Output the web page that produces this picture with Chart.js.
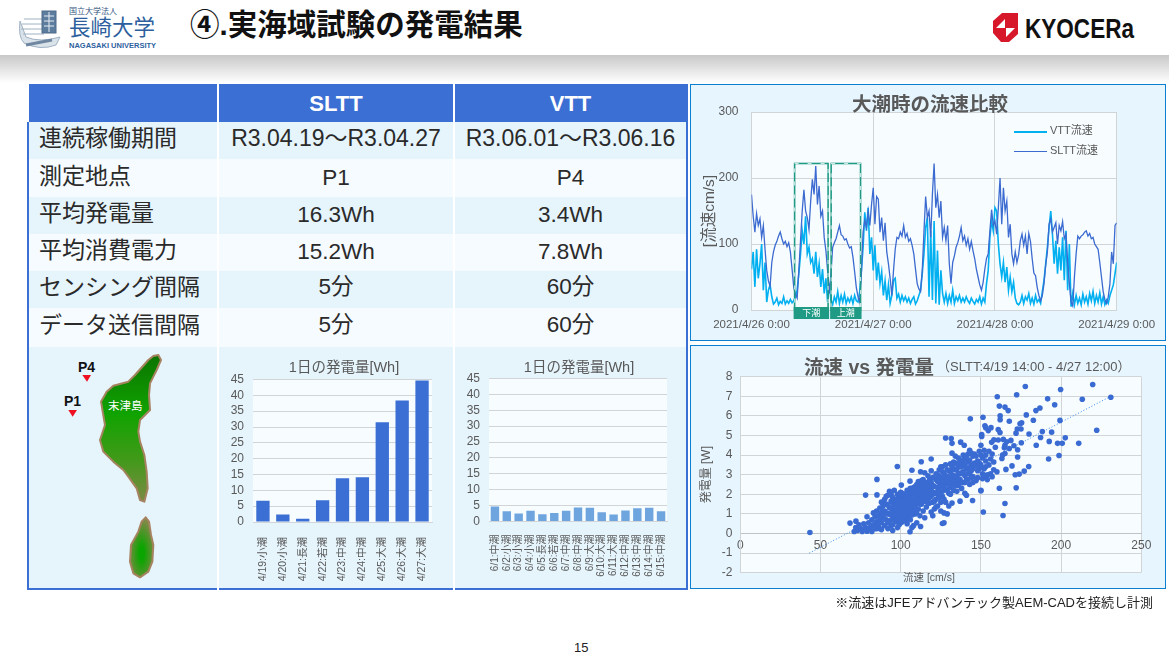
<!DOCTYPE html>
<html lang="ja">
<head>
<meta charset="utf-8">
<title>実海域試験の発電結果</title>
<script src="https://cdn.jsdelivr.net/npm/chart.js@4"></script>
<style>
  html, body { margin: 0; padding: 0; background: #fff; }
  body { position: relative; width: 1169px; height: 658px; overflow: hidden; font-family: "Liberation Sans", "Noto Sans CJK JP", sans-serif; color: #1a1a1a; }
  .abs { position: absolute; white-space: nowrap; }
  canvas { position: absolute; display: block; }
  #shadow { left: 0; top: 55px; width: 1169px; height: 28px; background: linear-gradient(#c8c8c8, #fff); }
  #pageTitle { left: 190px; top: 5px; font-size: 29.5px; font-weight: bold; color: #111; line-height: 40px; }
  #summary { position: absolute; left: 27px; top: 84px; width: 661px; height: 506px; box-sizing: border-box; border: 2px solid #3b6fd4; background: #e6f4fc; border-collapse: collapse; table-layout: fixed; color: #2a2a2a; }
  #summary td, #summary th { padding: 0; text-align: center; border-left: 2px solid #fff; font-weight: normal; font-size: 22.5px; line-height: 28px; overflow: hidden; }
  #summary th { background: #3b6fd4; color: #fff; font-weight: bold; font-size: 22px; }
  #summary td:first-child { text-align: left; padding-left: 10px; border-left: 0; font-size: 23px; }
  #summary td.wide { font-size: 23px; }
  #summary span.cjk { position: relative; top: -2.5px; }
  #summary tr:nth-child(odd) td { background: #f6fbff; }
  #summary tr:nth-child(even) td { background: #e6f4fc; }
  .panel { position: absolute; left: 690px; width: 476px; box-sizing: border-box; border: 1px solid #0d7fd0; background: #e7f5fe; }
  .legLine { position: absolute; left: 1014px; width: 33px; }
  .legText { left: 1050px; font-size: 11px; line-height: 14px; color: #595959; }
  .barTitle { top: 358px; width: 140px; text-align: center; font-size: 14.5px; line-height: 18px; color: #595959; }
</style>
</head>
<body>
<div class="abs" id="shadow"></div>

<!-- university logo, rough -->
<svg class="abs" style="left:18px;top:7px" width="44" height="44" viewBox="0 0 44 44" fill="none" stroke="#9fb2c4" stroke-width="1">
  <path d="M2 14 Q0 30 6 36 Q22 44 38 38 L42 30 Q22 36 8 30 Z" fill="#dbe3ea"/>
  <path d="M6 12 H26 M4 17 H26 M3 22 H26 M5 27 H26"/>
  <path d="M8 38 L34 33" stroke="#6f87a1" stroke-width="3"/>
  <rect x="24" y="4" width="14" height="22" fill="#5d7d9f" stroke="#4e6a88"/>
  <path d="M26 9 H36 M26 14 H36 M26 19 H36 M31 5 V25" stroke="#e8eef3"/>
</svg>
<div class="abs" style="left:69px;top:7px;font-size:8px;line-height:10px;color:#35557f">国立大学法人</div>
<div class="abs" style="left:69px;top:15px;font-size:21.5px;line-height:26px;color:#2d5f9e">長崎大学</div>
<div class="abs" style="left:69px;top:41px;font-size:7.5px;line-height:10px;color:#2d5f9e;font-weight:bold">NAGASAKI UNIVERSITY</div>

<div class="abs" id="pageTitle">④.実海域試験の発電結果</div>

<!-- kyocera logo -->
<svg class="abs" style="left:993px;top:13px" width="145" height="30" viewBox="0 0 145 30">
  <rect x="0" y="0" width="25" height="29" fill="#d7182a"/>
  <path d="M0 0 H9 L0 8 Z M25 29 H16 L25 21 Z M12 6 V15 H3 Z M13 15 H22 L13 24 Z M0 29 V20 L8 29 Z" fill="#fff"/>
  <text x="32" y="25" font-family="Liberation Sans" font-weight="bold" font-size="27" fill="#111" textLength="109" lengthAdjust="spacingAndGlyphs">KYOCERa</text>
</svg>

<table id="summary"></table>

<!-- island map -->
<svg class="abs" style="left:25px;top:345px" width="195" height="245" viewBox="0 0 585 735">
  <defs>
    <linearGradient id="land" x1="0" y1="0" x2="0" y2="1">
      <stop offset="0" stop-color="#0b7400"/>
      <stop offset="0.4" stop-color="#10a300"/>
      <stop offset="0.7" stop-color="#3f9a18"/>
      <stop offset="1" stop-color="#7c8a45"/>
    </linearGradient>
    <radialGradient id="land2" cx="0.5" cy="0.6" r="0.55">
      <stop offset="0.2" stop-color="#0aa500"/>
      <stop offset="1" stop-color="#7c8a45"/>
    </radialGradient>
  </defs>
  <path d="M400 30 L408 45 L395 75 L385 95 L375 115 L372 150 L375 195 L345 225 L340 260 L345 290 L358 330 L365 380 L368 430 L358 470 L345 465 L335 430 L310 395 L295 375 L265 350 L235 320 L225 285 L240 240 L228 170 L245 140 L265 122 L310 110 L330 90 L370 45 L385 33 Z" fill="url(#land)" stroke="#a5835f" stroke-width="6" stroke-linejoin="round"/>
  <path d="M362 517 L372 530 L378 570 L385 600 L382 650 L370 680 L345 697 L325 685 L315 650 L318 600 L340 560 L350 530 Z" fill="url(#land2)" stroke="#a5835f" stroke-width="6" stroke-linejoin="round"/>
  <path d="M172 90 H198 L186 110 Z M130 195 H156 L143 215 Z" fill="#ee1122"/>
</svg>
<div class="abs" style="left:78px;top:359px;font-size:14px;line-height:16px;font-weight:bold;color:#111">P4</div>
<div class="abs" style="left:64px;top:393px;font-size:14px;line-height:16px;font-weight:bold;color:#111">P1</div>
<div class="abs" style="left:108px;top:399px;font-size:11.5px;line-height:14px;color:#fff">末津島</div>

<canvas id="barSltt" style="left:220px;top:350px" width="233" height="238"></canvas>
<canvas id="barVtt" style="left:455px;top:350px" width="232" height="238"></canvas>
<div class="abs barTitle" style="left:274px">1日の発電量[Wh]</div>
<div class="abs barTitle" style="left:509px">1日の発電量[Wh]</div>

<div class="panel" style="top:84px;height:257px"></div>
<canvas id="flowChart" style="left:691px;top:85px" width="474" height="254"></canvas>
<div class="abs" style="left:852px;top:91px;font-size:19.5px;line-height:26px;font-weight:bold;color:#595959">大潮時の流速比較</div>
<div class="legLine" style="top:131px;height:2px;background:#00b0f0"></div>
<div class="legLine" style="top:151px;height:1px;background:#3b6ad0"></div>
<div class="abs legText" style="top:123px">VTT流速</div>
<div class="abs legText" style="top:143px">SLTT流速</div>

<div class="panel" style="top:345px;height:244px"></div>
<canvas id="scatterChart" style="left:691px;top:346px" width="474" height="242"></canvas>
<div class="abs" style="left:804px;top:354px;font-size:19.5px;line-height:26px;font-weight:bold;color:#595959">流速 vs 発電量</div>
<div class="abs" style="left:937px;top:358px;font-size:13px;line-height:18px;color:#595959">（SLTT:4/19 14:00 - 4/27 12:00）</div>
<div class="abs" style="left:903px;top:570px;font-size:10.5px;line-height:14px;color:#595959">流速 [cm/s]</div>

<div class="abs" style="right:16px;top:595px;font-size:13px;line-height:16px;color:#222">※流速はJFEアドバンテック製AEM-CADを接続し計測</div>
<div class="abs" style="left:574px;top:640px;font-size:13px;line-height:16px;color:#222">15</div>

<script>
const rowLabels = ['連続稼働期間', '測定地点', '平均発電量', '平均消費電力', 'センシング間隔', 'データ送信間隔'];
const slttValues = ['R3.04.19～R3.04.27', 'P1', '16.3Wh', '15.2Wh', '5分', '5分'];
const vttValues = ['R3.06.01～R3.06.16', 'P4', '3.4Wh', '7.8Wh', '60分', '60分'];

const slttDays = ['4/19:小潮', '4/20:小潮', '4/21:長潮', '4/22:若潮', '4/23:中潮', '4/24:中潮', '4/25:大潮', '4/26:大潮', '4/27:大潮'];
const slttEnergy = [6.7, 2.4, 1.0, 6.9, 13.8, 14.1, 31.5, 38.4, 44.7];
const vttDays = ['6/1:中潮', '6/2:小潮', '6/3:小潮', '6/4:小潮', '6/5:長潮', '6/6:若潮', '6/7:中潮', '6/8:中潮', '6/9:大潮', '6/10:大潮', '6/11:大潮', '6/12:中潮', '6/13:中潮', '6/14:中潮', '6/15:中潮'];
const vttEnergy = [4.7, 3.2, 2.5, 3.4, 2.3, 2.7, 3.4, 4.4, 4.3, 2.9, 2.2, 3.5, 4.2, 4.3, 3.2];

// flow speed, one value every 20 min from 4/26 0:00, 6 hours per row
const flowDays = ['2021/4/26 0:00', '2021/4/27 0:00', '2021/4/28 0:00', '2021/4/29 0:00'];
const vttFlow = [
  62,88,35, 92,48,70, 100,30,72, 12,30,38, 20,9,12, 18,8,13,
  10,20,9, 14,10,16, 11,14,20, 30,55,85, 120,100,142, 85,95,72,
  78,55,88, 50,70,35, 62,25,48, 12,40,15, 8,20,12, 28,10,22,
  12,24,10, 18,12,20, 10,22,14, 12,28,60, 95,148,120, 155,85,110,
  60,98,45, 72,40,58, 22,44,15, 38,10,22, 45,48,18, 24,12,22,
  14,20,12, 18,10,16, 20,9,14, 22,30,55, 85,125,140, 20,120,15,
  135,10,90, 8,60,25, 12,25,10, 22,12,30, 10,20,14, 22,12,18,
  12,20,14, 10,18,13, 9,16,12, 20,9,18, 12,40,60, 110,135,120,
  155,150,100, 70,50,72, 42,65,30, 50,28,42, 18,10,8, 12,22,10,
  20,15,25, 10,18,9, 22,12,16, 10,28,45, 70,95,125, 150,115,70,
  105,55,95, 60,110,45, 120,30,100, 5,25,8, 22,10,18, 8,24,12,
  20,9,25, 14,28,10, 22,12,26, 9,20,8, 15,10,22, 30,38,55,
  72
];
const slttFlow = [
  175,142,118, 146,128,138, 110,128,92, 60,44,36, 72,88,98, 104,112,118,
  108,100,104, 96,102,88, 62,34,24, 18,60,105, 150,182,150, 140,122,165,
  198,175,218, 160,188,142, 150,110,90, 60,25,55, 95,102,108, 118,128,114,
  112,106,108, 100,94,96, 80,58,34, 20,12,55, 118,136,125, 150,128,160,
  185,130,172, 168,118,140, 105,132,88, 70,48,22, 60,92,110, 108,118,112,
  128,110,116, 104,108,98, 85,62,40, 32,28,60, 118,172,140, 150,110,175,
  222,155,175, 140,165,110, 125,105,128, 70,40,72, 82,95,102, 112,125,105,
  112,98,108, 92,104,90, 78,62,50, 38,30,42, 62,78,85, 120,152,128,
  135,115,155, 200,130,185, 150,165,110, 130,85,70, 88,72,84, 105,115,98,
  112,85,116, 104,78,56, 52,34,22, 14,22,40, 68,88,130, 138,118,125,
  132,100,128, 120,134,108, 115,72,40, 12,6,50, 85,112,108, 112,114,118,
  120,112,116, 108,110,100, 96,92,72, 50,28,16, 10,20,40, 88,70,128,
  132
];
const flowStepHours = 1 / 3;

const tideLabels = ['下潮', '上潮'];
const tideStart = [8.5, 15.7];
const tideEnd = [15.1, 21.5];
const tideTop = 222;

// [flow cm/s, power W]
const speedPower = [
  [43.4,0.05],[231,6.95],[219.7,7.6],[177.7,7.5],[199.7,7.35],[172.3,7.08],[160.2,6.98],[191.6,6.87],[213.2,6.85],[196,6.57],
  [161.5,6.5],[165,6.45],[167,6.27],[186.8,6.4],[184.3,6.27],[178.3,6.05],[151.3,5.93],[162,6],[162,5.8],[143.4,5.85],
  [167.7,5.73],[182.7,5.78],[199.3,5.77],[175.4,5.65],[174.4,5.6],[152.5,5.5],[153,5.4],[156.3,5.4],[154.6,5.25],[160.8,5.3],
  [161.9,5.15],[172.7,5.33],[175,5.33],[171.9,5.12],[180,5.08],[188.3,5.2],[194.1,5.17],[222.2,5.27],[150.5,5.05],[150.5,4.95],
  [128,4.87],[131.5,4.85],[202.6,4.88],[187.2,4.9],[137.4,4.66],[139.6,4.5],[132,4.6],[192.6,4.7],[197.8,4.6],[200.7,4.6],
  [211,4.6],[175.2,4.63],[184.5,4.5],[156.7,4.65],[158.1,4.78],[160.8,4.77],[164,4.8],[166,4.68],[168.7,4.75],[165,4.5],
  [164.6,4.37],[167.7,4.34],[170.6,4.48],[172.9,4.27],[198.7,3.98],[192.2,3.8],[172.9,3.9],[165,4.08],[163.5,4],[163.1,3.83],
  [169.4,3.45],[165.6,3.27],[179.8,3.42],[177,3.18],[171.4,3],[173.9,3.03],[172,2.33],[161.5,2.31],[165,1.53],[163.8,0.92],
  [151.5,1.1],[144.8,1.68],[150,2.18],[119,3.8],[112.8,3.66],[97.9,3.42],[107,3.23],[112.4,3.15],[85.2,2.76],[78.1,1.96],
  [85.2,1.97],[100.4,2.47],[105.8,2.67],[126,0.51],[127,0.55],[112.4,0.36],[105.8,0.09],[68.4,0.53],[72.1,0.63],
  [71,0.1],[72,0.3],[73,0.15],[74,0.45],[75,0.25],[76,0.1],[77,0.5],[78,0.3],[79,0.12],[79,0.85],[80,0.55],[81,0.3],[82,0.7],[82,0.1],[83,0.45],[83,1.05],[84,0.25],[84,0.85],[85,0.6],[85,1.15],[85,0.25],
  [86,0.9],[86,0.45],[87,1.3],[87,0.7],[87,0.25],[88,1.05],[88,1.6],[88,0.55],[89,0.85],[89,1.4],[90,1.15],[90,0.4],[90,1.75],[91,0.7],[91,1.5],[92,1],[92,0.25],[92,1.95],[93,1.3],[93,0.65],[93,2.15],[94,0.95],[94,1.65],[94,0.4],[95,1.2],[95,0.15],[95,1.85],[95,0.75],
  [96,1.45],[96,1],[96,2.2],[97,0.6],[97,1.75],[97,1.2],[98,0.3],[98,1],[98,2],[98,1.5],[99,0.8],[99,1.3],[99,1.85],[100,1.05],[100,1.6],[100,0.55],[100,2.1],[101,1.25],[101,1.8],[101,0.9],[102,1.45],[102,1.05],[102,2],[103,0.7],[103,1.6],[103,1.25],[104,1.85],[104,1],[104,0.5],[105,1.4],[105,2.15],[105,0.85],[105,1.7],
  [106,1.1],[106,1.9],[106,2.3],[107,0.3],[107,1.55],[107,1.25],[108,2.05],[108,1.7],[108,0.4],[109,1.4],[109,2.4],[109,1],[110,1.85],[110,2.2],[110,0.55],[110,1.55],[111,2],[111,2.65],[111,1.25],[112,2.35],[112,1.75],[112,0.9],[113,2.1],[113,1.5],[113,2.7],[114,1.9],[114,2.45],[114,1.15],[115,2.25],[115,1.65],[115,0.8],[115,3.1],
  [116,2],[116,2.6],[116,1.35],[117,1.8],[117,2.95],[117,2.3],[118,2.15],[118,2.75],[118,1.55],[119,1.1],[119,1.9],[119,3.2],[120,2.45],[120,0.9],[120,1.6],[121,1.25],[121,2.05],[122,2.75],[122,1.75],[123,2.35],[123,1.4],[123,3],[124,2.6],[124,1.85],[124,3.25],[125,1.15],[125,2.15],[125,2.85],[125,1.6],
  [126,2.45],[126,3.4],[126,1.9],[127,2.7],[127,3.05],[127,1.05],[128,2.25],[128,1.6],[128,3.5],[129,2.9],[129,2.55],[129,1],[130,2.05],[130,3.2],[130,1.4],[131,2.75],[131,3.55],[131,2.35],[132,3],[132,1.55],[132,4.1],[133,2.55],[133,3.65],[133,2.2],[134,2.85],[134,3.25],[134,3.95],[135,2.65],[135,3.55],[135,2.15],
  [136,3.05],[136,3.85],[136,2.45],[137,3.4],[137,2.75],[137,1.65],[138,3.7],[138,2.3],[138,3.1],[139,4],[139,2.6],[139,3.5],[140,2.95],[140,2.05],[140,3.85],[141,3.3],[141,1.95],[142,3.65],[142,2.75],[142,4.05],[143,4.25],[143,3.1],[143,2.5],[144,3.5],[144,2.85],[145,3.95],[145,3.3],[145,2.6],
  [146,4.05],[147,2.7],[147,3.45],[148,3.7],[148,2.85],[149,3.3],[149,4.2],[150,4],[150,4.5],[150,2.2],[151,3.05],[151,2.8],[152,3.3],[152,4.25],[153,3.7],[153,4],[154,3],[154,2.75],[155,4.2],[155,3.5],[156,3.8],[156,3.05],[157,2.9],[157,4.05],[158,3.25],[158,3.65],[159,4.4],[160,3.15],
  // filling the dense part of the cloud
  [88,0.2],[89,1.15],[90,0.75],[91,1.05],[91,1.9],[92,1.45],[92,0.55],[93,1],[94,1.3],[94,2],[95,1.55],[95,0.45],[96,0.7],[96,1.7],[97,1.45],[97,0.9],[98,1.75],[98,0.7],[99,1.05],[99,1.6],[99,0.45],[100,1.35],[100,1.85],[100,0.8],[101,1.55],[101,2.05],[101,0.6],[102,1.25],[102,1.75],[102,0.8],[103,1.9],[103,1],[104,1.25],[104,1.55],[104,2.2],[105,1.1],[105,1.95],[106,1.5],[106,0.7],[107,1.8],[107,2.1],[107,0.95],[108,1.15],[108,1.45],[108,2.35],[109,1.75],[109,2.05],[109,1.25],[110,1.1],[110,2.5],[111,1.7],[111,2.3],[112,1.5],[112,2.1],[112,2.6],[113,1.85],[113,2.35],[114,1.65],[114,2.2],[114,2.75],[115,1.95],[115,2.5],[116,1.65],[116,2.3],[117,1.55],[117,2.6],[118,1.85],[118,2.45],[119,2.2],[119,2.6],[120,2],[120,2.85],[121,2.4],[121,1.65],[122,2.1],[122,1.35],[122,3.05],[123,2],[123,2.65],[124,2.25],[124,2.9],[125,2.5],[125,3.4],[126,2.15],[126,2.75],[126,3.15],[127,2.4],[127,1.75],[128,2.6],[128,2.95],[129,2.2],[129,3.25],[130,2.5],[130,2.8],[131,3.15],[131,2],[132,2.65],[132,3.4],[133,2.95],[133,3.3],[134,2.45],[134,3.6],[135,2.95],[135,3.25],[136,2.75],[136,3.5],[137,3.05],[137,3.75],[138,2.6],[138,3.4],[139,3.15],[139,3.75],[140,3.55],[140,2.6],[141,2.75],[141,3.95],[142,3.35],[142,3.05],[143,3.75],[144,3.2],[144,4.1],[145,2.9],[146,3.6],[147,3.95],[148,3.2],[149,3.6],[150,3.5],[151,3.85],[152,2.95],[153,3.4]
];
const trendSpeed = [43, 231];
const trendPower = [-1, 7];

// ---- table
const rowHeights = [37, 37, 37, 37, 37, 37, 38, 241];
const table = document.getElementById('summary');
// CJK fallback glyphs sit low in the line box, so nudge those cells up
const cell = v => /^[\x20-\x7e]+$/.test(v) ? v : `<span class="cjk">${v}</span>`;
let html = '<colgroup><col style="width:190px"><col style="width:236px"><col></colgroup>';
html += `<tr style="height:${rowHeights[0]}px"><th></th><th>SLTT</th><th>VTT</th></tr>`;
rowLabels.forEach((label, i) => {
  const wide = slttValues[i].length > 10 ? ' class="wide"' : '';
  html += `<tr style="height:${rowHeights[i + 1]}px"><td>${cell(label)}</td>` +
    `<td${wide}>${cell(slttValues[i])}</td><td${wide}>${cell(vttValues[i])}</td></tr>`;
});
html += `<tr style="height:${rowHeights[7]}px"><td></td><td></td><td></td></tr>`;
table.innerHTML = html;

// ---- charts
Chart.defaults.font.family = '"Liberation Sans", "Noto Sans CJK JP", sans-serif';
Chart.defaults.color = '#595959';
Chart.defaults.animation = false;
Chart.defaults.plugins.legend.display = false;
Chart.defaults.plugins.tooltip.enabled = false;

const gridColor = '#d2d5d8';

const plotBackground = {
  id: 'plotBackground',
  beforeDraw(chart) {
    const a = chart.chartArea;
    chart.ctx.save();
    chart.ctx.fillStyle = '#f7fcff';
    chart.ctx.fillRect(a.left, a.top, a.width, a.height);
    chart.ctx.restore();
  }
};

const tideBoxes = {
  id: 'tideBoxes',
  afterDatasetsDraw(chart) {
    const { ctx, scales: { x, y } } = chart;
    const top = y.getPixelForValue(tideTop);
    const bottom = y.getPixelForValue(0);
    tideLabels.forEach((label, i) => {
      const left = x.getPixelForValue(tideStart[i]);
      const right = x.getPixelForValue(tideEnd[i]);
      ctx.save();
      ctx.strokeStyle = '#1f9a84';
      ctx.lineWidth = 1.6;
      ctx.strokeRect(left, top, right - left, bottom - top);
      ctx.strokeStyle = '#fff';
      ctx.lineWidth = 0.8;
      ctx.setLineDash([4, 9]);
      ctx.strokeRect(left, top, right - left, bottom - top);
      ctx.setLineDash([]);
      ctx.fillStyle = '#1f9a84';
      ctx.fillRect(left - 1, bottom - 3, right - left + 2, 12);
      ctx.fillStyle = '#fff';
      ctx.font = '9px "Noto Sans CJK JP"';
      ctx.textAlign = 'center';
      ctx.textBaseline = 'middle';
      ctx.fillText(label, (left + right) / 2, bottom + 3);
      ctx.restore();
    });
  }
};

function energyChart(id, days, energy, color, barShare, plotLeft, plotRight, plotTop, plotBottom, labelSize, labelGap) {
  const canvas = document.getElementById(id);
  return new Chart(canvas, {
    type: 'bar',
    plugins: [plotBackground],
    data: { labels: days, datasets: [{ data: energy, backgroundColor: color, barPercentage: barShare, categoryPercentage: 1 }] },
    options: {
      responsive: false,
      layout: { padding: { left: 0, right: canvas.width - plotRight, top: plotTop, bottom: 0 } },
      scales: {
        x: {
          grid: { display: false },
          border: { color: gridColor },
          ticks: { autoSkip: false, minRotation: 90, maxRotation: 90, padding: labelGap, font: { size: labelSize } },
          afterFit(s) { s.height = canvas.height - plotBottom; }
        },
        y: {
          min: 0, max: 45,
          grid: { color: gridColor, drawTicks: false },
          border: { display: false },
          ticks: { stepSize: 5, autoSkip: false, padding: 9, font: { size: 12 } },
          afterFit(s) { s.width = plotLeft; }
        }
      }
    }
  });
}

energyChart('barSltt', slttDays, slttEnergy, '#3b6fd4', 0.67, 33, 212, 29.5, 172, 10.5, 7);
energyChart('barVtt', vttDays, vttEnergy, '#6fa5de', 0.71, 34, 212, 28.5, 171.5, 10, 5);

new Chart(document.getElementById('flowChart'), {
  type: 'line',
  plugins: [plotBackground, tideBoxes],
  data: {
    datasets: [
      { label: 'VTT流速', data: vttFlow.map((v, i) => ({ x: i * flowStepHours, y: v })), borderColor: '#00b0f0', borderWidth: 1.6, pointRadius: 0, order: 1 },
      { label: 'SLTT流速', data: slttFlow.map((v, i) => ({ x: i * flowStepHours, y: v })), borderColor: '#3b6ad0', borderWidth: 1.3, pointRadius: 0, order: 0 }
    ]
  },
  options: {
    responsive: false,
    layout: { padding: { left: 9, right: 48.3, top: 27, bottom: 0 } },
    scales: {
      x: {
        type: 'linear', min: 0, max: 72,
        grid: { color: gridColor, drawTicks: false },
        border: { color: gridColor },
        ticks: { stepSize: 24, padding: 8, maxRotation: 0, font: { size: 11.5 }, callback: v => flowDays[v / 24] },
        afterFit(s) { s.height = 29; }
      },
      y: {
        min: 0, max: 300,
        grid: { color: gridColor, drawTicks: false },
        border: { color: gridColor },
        title: { display: true, text: '[流速cm/s]', font: { size: 15.5 }, color: '#595959', padding: 0 },
        ticks: { stepSize: 100, padding: 13, font: { size: 12 } },
        afterFit(s) { s.width = 51.5; }
      }
    }
  }
});

new Chart(document.getElementById('scatterChart'), {
  type: 'scatter',
  plugins: [plotBackground],
  data: {
    datasets: [
      { data: speedPower.map(p => ({ x: p[0], y: p[1] })), backgroundColor: '#3a6bd2', pointRadius: 2.8, pointBorderWidth: 0 },
      { type: 'line', data: trendSpeed.map((v, i) => ({ x: v, y: trendPower[i] })), borderColor: '#3b8beb', borderWidth: 1, borderDash: [1, 2], pointRadius: 0 }
    ]
  },
  options: {
    responsive: false,
    layout: { padding: { left: 8.8, right: 23.7, top: 30.7, bottom: 15.3 } },
    scales: {
      x: {
        type: 'linear', min: 0, max: 250, position: { y: 0 },
        grid: { color: gridColor, drawTicks: false },
        border: { color: '#bfc3c7' },
        ticks: { stepSize: 50, padding: 5, maxRotation: 0, font: { size: 12 } }
      },
      y: {
        min: -2, max: 8,
        grid: { color: gridColor, drawTicks: false },
        border: { color: gridColor },
        title: { display: true, text: '発電量 [W]', font: { size: 12 }, color: '#595959', padding: 0 },
        ticks: { stepSize: 1, padding: 8, font: { size: 12 } },
        afterFit(s) { s.width = 40.5; }
      }
    }
  }
});
</script>
</body>
</html>
